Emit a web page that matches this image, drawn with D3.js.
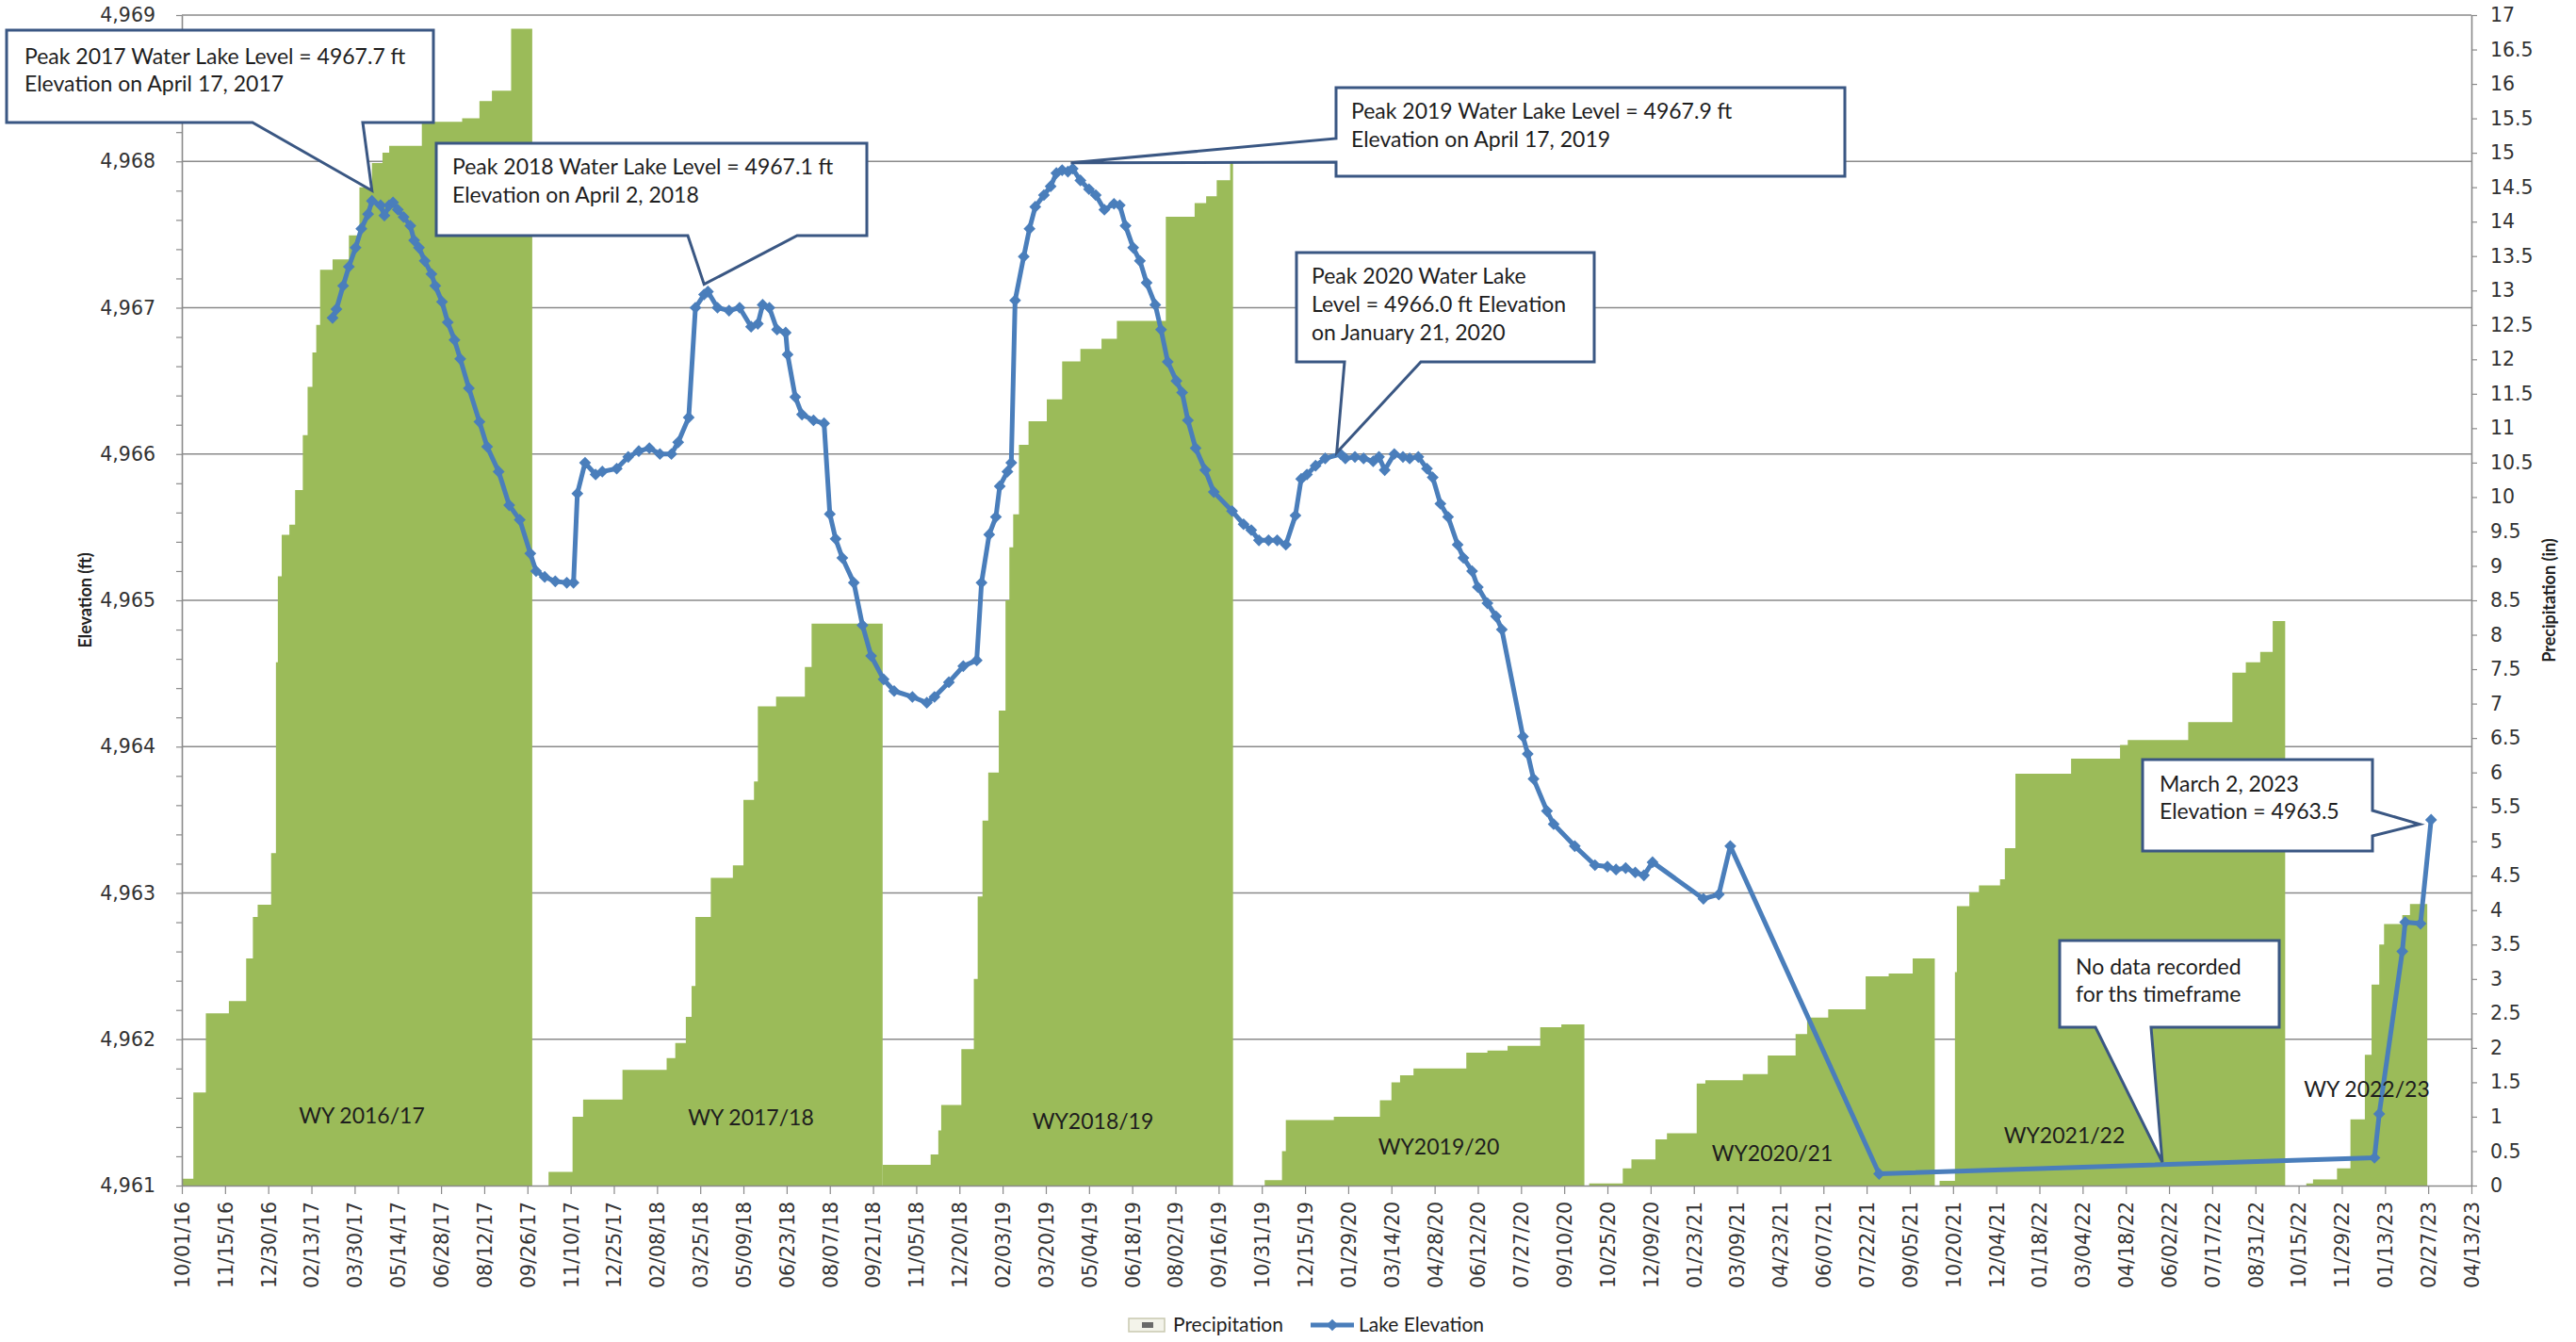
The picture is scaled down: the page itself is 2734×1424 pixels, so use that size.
<!DOCTYPE html>
<html><head><meta charset="utf-8">
<script src="https://cdn.jsdelivr.net/npm/d3@7"></script>
<style>
body{margin:0;background:#fff}
svg{display:block}
</style>
</head><body>
<svg id="chart" width="2734" height="1424"></svg>
<script>
// ---------------- DATA ----------------
const xTickLabels = ["10/01/16","11/15/16","12/30/16","02/13/17","03/30/17","05/14/17","06/28/17","08/12/17","09/26/17",
"11/10/17","12/25/17","02/08/18","03/25/18","05/09/18","06/23/18","08/07/18","09/21/18",
"11/05/18","12/20/18","02/03/19","03/20/19","05/04/19","06/18/19","08/02/19","09/16/19",
"10/31/19","12/15/19","01/29/20","03/14/20","04/28/20","06/12/20","07/27/20","09/10/20",
"10/25/20","12/09/20","01/23/21","03/09/21","04/23/21","06/07/21","07/22/21","09/05/21",
"10/20/21","12/04/21","01/18/22","03/04/22","04/18/22","06/02/22","07/17/22","08/31/22",
"10/15/22","11/29/22","01/13/23","02/27/23","04/13/23"];

const elevationTicks = [4961,4962,4963,4964,4965,4966,4967,4968,4969];
const precipTicks = [0,0.5,1,1.5,2,2.5,3,3.5,4,4.5,5,5.5,6,6.5,7,7.5,8,8.5,9,9.5,10,10.5,11,11.5,12,12.5,13,13.5,14,14.5,15,15.5,16,16.5,17];

// cumulative precipitation (in) per water year, step values [date, inches]
const precipWY1617 = [["2016-10-01",0.1],["2016-10-13",1.35],["2016-10-26",2.5],["2016-11-19",2.68],["2016-12-07",3.3],["2016-12-14",3.9],["2016-12-19",4.08],["2017-01-02",4.83],["2017-01-07",7.6],["2017-01-09",8.85],["2017-01-13",9.45],["2017-01-21",9.6],["2017-01-27",10.1],["2017-02-04",10.9],["2017-02-09",11.6],["2017-02-14",12.1],["2017-02-18",12.5],["2017-02-22",13.3],["2017-03-07",13.45],["2017-03-24",13.8],["2017-04-04",14.5],["2017-04-17",14.85],["2017-04-28",15.0],["2017-05-05",15.1],["2017-06-08",15.45],["2017-07-20",15.5],["2017-08-07",15.75],["2017-08-20",15.9],["2017-09-09",16.8],["2017-10-01",16.8]];
const precipWY1718 = [["2017-10-18",0.2],["2017-11-12",1.0],["2017-11-23",1.25],["2018-01-03",1.68],["2018-02-18",1.85],["2018-02-27",2.07],["2018-03-10",2.45],["2018-03-16",2.9],["2018-03-20",3.9],["2018-04-05",4.47],["2018-04-28",4.65],["2018-05-09",5.6],["2018-05-20",5.87],["2018-05-24",6.96],["2018-06-12",7.1],["2018-07-12",7.53],["2018-07-19",8.16],["2018-10-01",8.16]];
const precipWY1819 = [["2018-10-01",0.3],["2018-11-20",0.45],["2018-11-28",0.8],["2018-12-01",1.17],["2018-12-22",1.98],["2019-01-04",3.0],["2019-01-08",4.2],["2019-01-13",5.3],["2019-01-19",6.0],["2019-01-30",6.9],["2019-02-06",8.5],["2019-02-10",9.27],["2019-02-14",9.75],["2019-02-20",10.76],["2019-03-02",11.1],["2019-03-21",11.42],["2019-04-06",11.97],["2019-04-25",12.15],["2019-05-17",12.3],["2019-06-02",12.56],["2019-07-23",14.07],["2019-08-22",14.27],["2019-09-03",14.37],["2019-09-14",14.6],["2019-09-28",14.86],["2019-10-01",14.86]];
const precipWY1920 = [["2019-11-03",0.08],["2019-11-21",0.5],["2019-11-25",0.95],["2020-01-14",1.0],["2020-03-02",1.24],["2020-03-14",1.5],["2020-03-23",1.6],["2020-04-06",1.7],["2020-05-31",1.93],["2020-06-22",1.96],["2020-07-13",2.03],["2020-08-16",2.3],["2020-09-07",2.34],["2020-10-01",2.34]];
const precipWY2021 = [["2020-10-06",0.03],["2020-11-10",0.25],["2020-11-19",0.38],["2020-12-14",0.67],["2020-12-26",0.76],["2021-01-26",1.48],["2021-02-04",1.53],["2021-03-15",1.62],["2021-04-10",1.89],["2021-05-09",2.2],["2021-05-21",2.44],["2021-06-12",2.56],["2021-07-21",3.04],["2021-08-14",3.08],["2021-09-08",3.3],["2021-10-01",3.3]];
const precipWY2122 = [["2021-10-06",0.07],["2021-10-22",3.1],["2021-10-24",4.06],["2021-11-06",4.26],["2021-11-16",4.36],["2021-12-08",4.45],["2021-12-13",4.9],["2021-12-24",5.98],["2022-02-20",6.2],["2022-04-12",6.4],["2022-04-20",6.47],["2022-06-22",6.73],["2022-08-07",7.45],["2022-08-21",7.6],["2022-09-05",7.75],["2022-09-18",8.2],["2022-10-01",8.2]];
const precipWY2223 = [["2022-10-23",0.03],["2022-10-30",0.09],["2022-11-24",0.25],["2022-12-08",0.96],["2022-12-23",1.9],["2022-12-30",2.92],["2023-01-07",3.5],["2023-01-12",3.8],["2023-01-31",3.93],["2023-02-08",4.09],["2023-02-26",4.09]];

// lake elevation (ft) [date, elevation]
const lakeElevation = [["2017-03-07",4966.93],["2017-03-11",4966.99],["2017-03-18",4967.15],["2017-03-24",4967.28],["2017-03-31",4967.41],["2017-04-06",4967.54],["2017-04-13",4967.64],["2017-04-17",4967.73],["2017-04-26",4967.70],["2017-04-30",4967.63],["2017-05-05",4967.70],["2017-05-09",4967.72],["2017-05-14",4967.67],["2017-05-20",4967.62],["2017-05-27",4967.56],["2017-05-31",4967.46],["2017-06-05",4967.41],["2017-06-11",4967.32],["2017-06-18",4967.23],["2017-06-22",4967.15],["2017-06-29",4967.04],["2017-07-05",4966.90],["2017-07-12",4966.78],["2017-07-18",4966.65],["2017-07-27",4966.45],["2017-08-07",4966.22],["2017-08-15",4966.05],["2017-08-27",4965.88],["2017-09-07",4965.65],["2017-09-18",4965.55],["2017-09-29",4965.32],["2017-10-05",4965.20],["2017-10-14",4965.16],["2017-10-25",4965.13],["2017-11-06",4965.12],["2017-11-13",4965.12],["2017-11-17",4965.73],["2017-11-25",4965.94],["2017-12-06",4965.86],["2017-12-13",4965.88],["2017-12-28",4965.90],["2018-01-09",4965.98],["2018-01-20",4966.02],["2018-01-31",4966.04],["2018-02-11",4966.00],["2018-02-23",4966.00],["2018-03-02",4966.08],["2018-03-13",4966.25],["2018-03-20",4967.00],["2018-03-29",4967.09],["2018-04-02",4967.11],["2018-04-12",4967.00],["2018-04-24",4966.98],["2018-05-05",4967.00],["2018-05-17",4966.87],["2018-05-24",4966.89],["2018-05-29",4967.02],["2018-06-05",4967.00],["2018-06-13",4966.85],["2018-06-22",4966.83],["2018-06-24",4966.68],["2018-07-02",4966.39],["2018-07-09",4966.27],["2018-07-21",4966.23],["2018-08-01",4966.21],["2018-08-07",4965.59],["2018-08-13",4965.42],["2018-08-20",4965.29],["2018-09-01",4965.12],["2018-09-10",4964.83],["2018-09-19",4964.62],["2018-10-02",4964.46],["2018-10-13",4964.38],["2018-11-01",4964.34],["2018-11-16",4964.30],["2018-11-24",4964.34],["2018-12-09",4964.44],["2018-12-24",4964.55],["2019-01-07",4964.59],["2019-01-12",4965.12],["2019-01-20",4965.45],["2019-01-27",4965.57],["2019-01-31",4965.78],["2019-02-08",4965.88],["2019-02-12",4965.94],["2019-02-16",4967.05],["2019-02-25",4967.35],["2019-03-03",4967.54],["2019-03-09",4967.69],["2019-03-18",4967.77],["2019-03-25",4967.83],["2019-03-31",4967.92],["2019-04-06",4967.94],["2019-04-12",4967.93],["2019-04-17",4967.95],["2019-04-25",4967.87],["2019-05-04",4967.81],["2019-05-11",4967.77],["2019-05-20",4967.67],["2019-05-30",4967.71],["2019-06-05",4967.70],["2019-06-11",4967.56],["2019-06-19",4967.41],["2019-06-26",4967.32],["2019-07-03",4967.17],["2019-07-12",4967.02],["2019-07-18",4966.85],["2019-07-25",4966.63],["2019-08-03",4966.50],["2019-08-09",4966.42],["2019-08-15",4966.23],["2019-08-23",4966.04],["2019-09-02",4965.89],["2019-09-11",4965.74],["2019-09-30",4965.61],["2019-10-12",4965.52],["2019-10-20",4965.48],["2019-10-28",4965.41],["2019-11-07",4965.41],["2019-11-16",4965.41],["2019-11-25",4965.38],["2019-12-05",4965.58],["2019-12-11",4965.83],["2019-12-17",4965.86],["2019-12-26",4965.92],["2020-01-05",4965.97],["2020-01-21",4966.00],["2020-01-26",4965.97],["2020-02-05",4965.98],["2020-02-14",4965.97],["2020-02-24",4965.95],["2020-03-01",4965.98],["2020-03-07",4965.89],["2020-03-17",4966.00],["2020-03-26",4965.98],["2020-04-02",4965.97],["2020-04-11",4965.98],["2020-04-20",4965.90],["2020-04-26",4965.84],["2020-05-04",4965.66],["2020-05-12",4965.57],["2020-05-22",4965.38],["2020-05-28",4965.29],["2020-06-06",4965.20],["2020-06-12",4965.09],["2020-06-22",4964.98],["2020-07-01",4964.89],["2020-07-07",4964.80],["2020-07-29",4964.07],["2020-08-03",4963.95],["2020-08-09",4963.78],["2020-08-23",4963.56],["2020-08-30",4963.47],["2020-09-21",4963.32],["2020-10-12",4963.19],["2020-10-25",4963.18],["2020-11-03",4963.16],["2020-11-13",4963.17],["2020-11-23",4963.14],["2020-12-02",4963.12],["2020-12-11",4963.21],["2021-02-02",4962.96],["2021-02-18",4962.99],["2021-03-02",4963.32],["2021-08-04",4961.08],["2023-01-02",4961.19],["2023-01-07",4961.49],["2023-01-31",4962.60],["2023-02-03",4962.80],["2023-02-19",4962.79],["2023-03-02",4963.50]];

const wyLabels = ["WY 2016/17","WY 2017/18","WY2018/19","WY2019/20","WY2020/21","WY2021/22","WY 2022/23"];

const calloutTexts = [
  ["Peak 2017 Water Lake Level = 4967.7 ft","Elevation on April 17, 2017"],
  ["Peak 2018 Water Lake Level = 4967.1 ft","Elevation on April 2, 2018"],
  ["Peak 2019 Water Lake Level = 4967.9 ft","Elevation on April 17, 2019"],
  ["Peak 2020 Water Lake","Level = 4966.0 ft Elevation","on January 21, 2020"],
  ["March 2, 2023","Elevation = 4963.5"],
  ["No data recorded","for ths timeframe"]
];
const calloutTargets = [["2017-04-17",4967.8],["2018-03-29",4967.16],["2019-04-15",4967.99],["2020-01-17",4966.01],["2023-02-18",4963.47],["2022-05-26",4961.16]];

const legendLabels = ["Precipitation","Lake Elevation"];

// ---------------- LAYOUT ----------------
const M = {left:193, right:2623, top:16, bottom:1258};
const GREEN = "#9BBB59", BLUE = "#4A7EBB", GRID = "#8a8a8a", NAVY = "#3A5783";
const TXT = "Lato, 'Open Sans', sans-serif";
const TICKF = "'DejaVu Sans', Verdana, sans-serif";

const parse = d3.utcParse("%Y-%m-%d");
const parseTick = d3.utcParse("%m/%d/%y");
const tickDates = xTickLabels.map(parseTick);

const x = d3.scaleUtc().domain([tickDates[0], tickDates[tickDates.length-1]]).range([M.left, M.right]);
const yL = d3.scaleLinear().domain([4961,4969]).range([M.bottom, M.top]);
const yR = d3.scaleLinear().domain([0,17]).range([M.bottom, M.top]);

const svg = d3.select("#chart");
svg.append("rect").attr("width",2734).attr("height",1424).attr("fill","#fff");

// gridlines
svg.append("g").selectAll("line").data(elevationTicks.slice(1)).join("line")
  .attr("x1",M.left).attr("x2",M.right)
  .attr("y1",d=>yL(d)).attr("y2",d=>yL(d))
  .attr("stroke",GRID).attr("stroke-width",1.6);

// precipitation areas
const area = d3.area().curve(d3.curveStepAfter)
  .x(d=>x(parse(d[0]))).y0(yR(0)).y1(d=>yR(d[1]));
const precipSeries = [precipWY1617,precipWY1718,precipWY1819,precipWY1920,precipWY2021,precipWY2122,precipWY2223];
svg.append("g").selectAll("path").data(precipSeries).join("path")
  .attr("d",area).attr("fill",GREEN);

// left axis (minor ticks + labels)
const minorElev = d3.range(0,41).map(i=>4961+i*0.2);
const gLm = svg.append("g").attr("transform",`translate(${M.left},0)`)
  .call(d3.axisLeft(yL).tickValues(minorElev).tickSize(6).tickSizeOuter(0).tickFormat(""));
gLm.select(".domain").attr("stroke",GRID).attr("stroke-width",1.6);
gLm.selectAll(".tick line").attr("stroke",GRID).attr("stroke-width",1.2);
const gL = svg.append("g").attr("transform",`translate(${M.left},0)`)
  .call(d3.axisLeft(yL).tickValues(elevationTicks).tickSize(0).tickPadding(28).tickFormat(d3.format(",")));
gL.select(".domain").remove();
gL.selectAll("text").attr("font-family",TICKF).attr("font-size",20.5).attr("fill","#333");

// right axis
const gR = svg.append("g").attr("transform",`translate(${M.right},0)`)
  .call(d3.axisRight(yR).tickValues(precipTicks).tickSize(6).tickSizeOuter(0).tickPadding(14).tickFormat(d=>String(d)));
gR.select(".domain").attr("stroke",GRID).attr("stroke-width",1.6);
gR.selectAll(".tick line").attr("stroke",GRID).attr("stroke-width",1.2);
gR.selectAll("text").attr("font-family",TICKF).attr("font-size",20.5).attr("fill","#333");

// bottom axis
const gX = svg.append("g").attr("transform",`translate(0,${M.bottom})`)
  .call(d3.axisBottom(x).tickValues(tickDates).tickSize(9).tickSizeOuter(0).tickFormat((d,i)=>xTickLabels[i]));
gX.select(".domain").attr("stroke",GRID).attr("stroke-width",1.6);
gX.selectAll(".tick line").attr("stroke",GRID).attr("stroke-width",1.2);
gX.selectAll("text")
  .attr("transform","rotate(-90)")
  .attr("x",-17).attr("y",0).attr("dy","0.36em")
  .attr("text-anchor","end")
  .attr("font-family",TICKF).attr("font-size",20.5).attr("fill","#333");

// axis titles
svg.append("text").attr("transform",`translate(91,${(M.top+M.bottom)/2}) rotate(-90)`)
  .attr("text-anchor","middle").attr("dy","0.35em")
  .attr("font-family",TXT).attr("font-weight","bold").attr("font-size",18).attr("fill","#222")
  .text("Elevation (ft)");
svg.append("text").attr("transform",`translate(2706,${(M.top+M.bottom)/2}) rotate(-90)`)
  .attr("text-anchor","middle").attr("dy","0.35em")
  .attr("font-family",TXT).attr("font-weight","bold").attr("font-size",18).attr("fill","#222")
  .text("Precipitation (in)");

// lake elevation line
const line = d3.line().x(d=>x(parse(d[0]))).y(d=>yL(d[1]));
svg.append("path").datum(lakeElevation).attr("d",line)
  .attr("fill","none").attr("stroke",BLUE).attr("stroke-width",5).attr("stroke-linejoin","round");
svg.append("g").selectAll("path").data(lakeElevation).join("path")
  .attr("d",d3.symbol(d3.symbolSquare,80))
  .attr("transform",d=>`translate(${x(parse(d[0]))},${yL(d[1])}) rotate(45)`)
  .attr("fill",BLUE);

// WY labels
const wyPos = [[384,1184],[797,1186],[1160,1190],[1527,1217],[1881,1224],[2191,1205],[2512,1156]];
svg.append("g").selectAll("text").data(wyLabels).join("text")
  .attr("x",(d,i)=>wyPos[i][0]).attr("y",(d,i)=>wyPos[i][1]).attr("dy","0.35em")
  .attr("text-anchor","middle").attr("font-family",TXT).attr("font-size",23).attr("fill","#1e1e1e")
  .text(d=>d);

// callouts
const calloutBoxes = [
  {box:[7,32,460,130], side:"bottom", base:[268,385], tx:26, ty:[60,89]},
  {box:[463,152,920,250], side:"bottom", base:[730,846], tx:480, ty:[177,207]},
  {box:[1418,93,1958,187], side:"left", base:[147,172], tx:1434, ty:[118,148]},
  {box:[1376,268,1692,384], side:"bottom", base:[1427,1508], tx:1392, ty:[293,323,353]},
  {box:[2274,806,2518,903], side:"right", base:[860,887], tx:2292, ty:[832,861]},
  {box:[2186,998,2419,1090], side:"bottom", base:[2224,2283], tx:2203, ty:[1026,1055]}
];
function calloutPath(c, tip){
  const [x0,y0,x1,y1] = c.box, [b1,b2] = c.base, [tX,tY] = tip;
  const p = d3.path();
  p.moveTo(x0,y0); p.lineTo(x1,y0);
  if (c.side==="right"){ p.lineTo(x1,b1); p.lineTo(tX,tY); p.lineTo(x1,b2); }
  p.lineTo(x1,y1);
  if (c.side==="bottom"){ p.lineTo(b2,y1); p.lineTo(tX,tY); p.lineTo(b1,y1); }
  p.lineTo(x0,y1);
  if (c.side==="left"){ p.lineTo(x0,b2); p.lineTo(tX,tY); p.lineTo(x0,b1); }
  p.closePath();
  return p.toString();
}
const gC = svg.append("g");
calloutBoxes.forEach((c,i)=>{
  const tip = [x(parse(calloutTargets[i][0])), yL(calloutTargets[i][1])];
  gC.append("path").attr("d",calloutPath(c,tip))
    .attr("fill","#fff").attr("stroke",NAVY).attr("stroke-width",3).attr("stroke-linejoin","miter");
  calloutTexts[i].forEach((t,j)=>{
    gC.append("text").attr("x",c.tx).attr("y",c.ty[j]).attr("dy","0.35em")
      .attr("font-family",TXT).attr("font-size",23).attr("fill","#1e1e1e").text(t);
  });
});

// legend
const gLeg = svg.append("g");
gLeg.append("rect").attr("x",1198).attr("y",1399).attr("width",38).attr("height",14)
  .attr("fill","#f3f3ea").attr("stroke","#c9c9b0").attr("stroke-width",1.5);
gLeg.append("rect").attr("x",1212).attr("y",1403).attr("width",12).attr("height",6).attr("fill","#6a6a6a");
gLeg.append("text").attr("x",1245).attr("y",1406).attr("dy","0.35em")
  .attr("font-family",TXT).attr("font-size",21).attr("fill","#1e1e1e").text(legendLabels[0]);
gLeg.append("line").attr("x1",1391).attr("x2",1437).attr("y1",1406).attr("y2",1406)
  .attr("stroke",BLUE).attr("stroke-width",5);
gLeg.append("path").attr("d",d3.symbol(d3.symbolSquare,80)).attr("transform","translate(1414,1406) rotate(45)").attr("fill",BLUE);
gLeg.append("text").attr("x",1442).attr("y",1406).attr("dy","0.35em")
  .attr("font-family",TXT).attr("font-size",21).attr("fill","#1e1e1e").text(legendLabels[1]);
</script>
</body></html>
